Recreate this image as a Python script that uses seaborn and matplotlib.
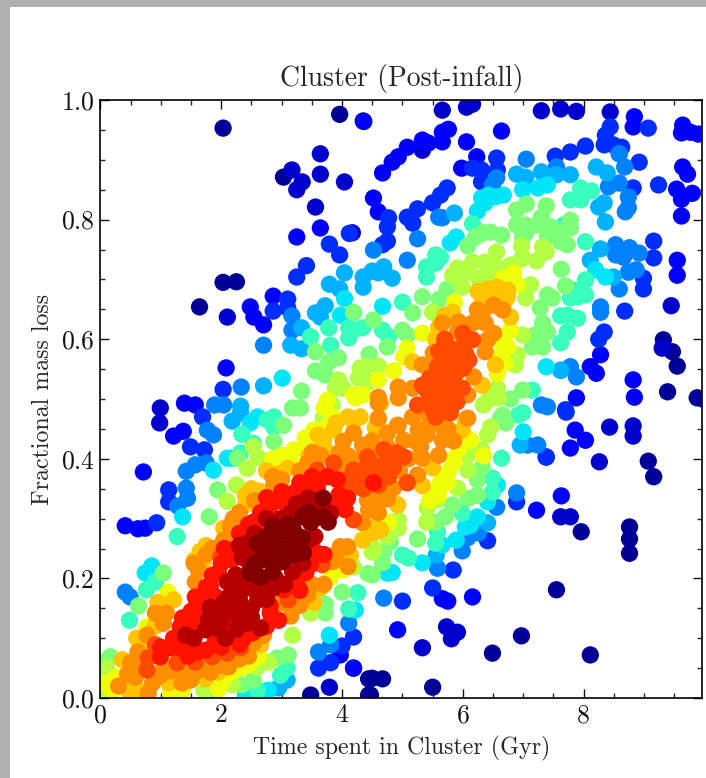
from matplotlib import pyplot as plt
from matplotlib.patches import Rectangle
from matplotlib.ticker import MultipleLocator
import seaborn as sns
import pandas as pd

# points, grouped by how dense they look
navy = [(2.03,.953),(3.96,.976),(4.35,.965),(2.03,.695),(2.25,.696),(1.64,.654),(7.55,.181),(6.49,.075),(6.97,.104),
        (8.11,.072),(4.50,.033),(5.50,.018),(4.47,.005),(4.44,.005),(9.07,.396),(9.16,.37),(7.96,.278),(8.76,.286),
        (8.76,.266),(8.76,.242),(9.88,.502),(9.39,.512),(9.55,.555),(9.47,.579),(9.32,.599),(3.03,.871),(3.48,.005),
        (4.44,.032),(4.67,.032),(9.97,.5)]
dark_blue = [(3.17,.883),(3.34,.863),(3.25,.85),(3.64,.876),(3.64,.91),(.99,.485),(.98,.46),(5.73,.119),(5.91,.11),
             (5.81,.099),(5.33,.084),(3.79,.018),(4.19,.05),(8.82,.455),(8.82,.438),(8.26,.395),(7.62,.303),(7.78,.303),
             (9.30,.585),(9.45,.656),(8.43,.453),(5.66,.983),(7.30,.982),(7.62,.985),(7.88,.981),(8.44,.98),(6.06,.988),
             (6.16,.993),(2.10,.637),(4.04,.863),(3.56,.821),(4.17,.778),(5.33,.916)]
blue = [(3.64,.786),(3.25,.771),(2.48,.654),(2.54,.637),(.71,.378),(.41,.288),(.62,.283),(.74,.284),(1.21,.438),
        (1.37,.446),(1.39,.493),(1.57,.49),(4.92,.114),(6.16,.169),(5.66,.166),(5.75,.162),(7.86,.448),(8.03,.431),
        (7.78,.418),(7.63,.338),(7.22,.314),(8.82,.532),(8.84,.503),(7.88,.502),(9.55,.732),(9.55,.707),(9.64,.958),
        (9.62,.945),(9.77,.946),(9.90,.943),(9.64,.888),(9.72,.876),(9.54,.851),(9.80,.844),(9.62,.834),(9.62,.806),
        (6.64,.948),(8.84,.972),(8.82,.955),(4.36,.964),(4.67,.878),(4.83,.896),(4.93,.905),(5.08,.921),(5.33,.933),
        (5.43,.928),(5.66,.93),(5.66,.946),(5.76,.951),(6.06,.93),(6.23,.905),(5.98,.886),(4.52,.836),(2.70,.624),
        (2.86,.672),(2.08,.552),(8.11,.554),(8.21,.543),(8.28,.574),(7.38,.403),(4.60,.813),(4.19,.05),(3.97,.072)]
blue_azure = [(3.79,.759),(3.96,.741),(3.41,.723),(3.25,.704),(2.86,.647),(3.10,.667),(3.10,.652),(2.03,.516),(4.12,.777),
              (1.13,.348),(1.13,.328),(1.49,.42),(.93,.293),(5.0,.162),(5.50,.184),(5.84,.214),(6.41,.263),(6.89,.328),
              (7.70,.482),(7.71,.478),(8.25,.6),(8.34,.612),(8.68,.647),(8.99,.684),(8.99,.702),(9.16,.736),(9.07,.953),
              (8.44,.955),(8.36,.941),(8.34,.925),(8.03,.923),(7.78,.913),(6.31,.883),(6.16,.886),(6.56,.903),(6.57,.883),
              (6.31,.863),(4.75,.788),(4.77,.803),(5.08,.804),(5.25,.818),(5.17,.794),(5.50,.828),(5.63,.841),(5.74,.853),
              (9.24,.858),(8.92,.896),(8.82,.853),(4.19,.102),(4.0,.087),(3.61,.05),(3.81,.059),(8.49,.925),(8.63,.921),
              (1.69,.47),(1.72,.415),(4.75,.764),(4.67,.758),(7.53,.906),(7.38,.403),(9.16,.764)]
azure = [(2.70,.59),(3.17,.639),(3.17,.615),(2.33,.52),(1.89,.49),(2.04,.49),(1.77,.448),(1.87,.44),(1.75,.393),(1.57,.39),
         (1.42,.379),(1.42,.351),(1.44,.334),(1.28,.321),(.41,.177),(.49,.169),(4.69,.167),(4.11,.125),(3.81,.089),(3.61,.077),
         (6.26,.276),(6.08,.268),(5.99,.246),(5.58,.217),(6.56,.319),(6.89,.343),(7.24,.423),(7.30,.49),(7.40,.487),(7.62,.548),
         (7.78,.554),(7.88,.537),(8.28,.654),(8.28,.645),(8.59,.684),(8.87,.716),(8.74,.712),(8.92,.744),(8.76,.753),(8.66,.737),
         (8.53,.758),(8.53,.741),(8.59,.91),(8.59,.861),(8.68,.888),(8.59,.91),(8.41,.855),(8.74,.838),(8.74,.82),(8.69,.813),
         (7.05,.901),(6.56,.87),(6.49,.858),(5.25,.768),(5.08,.732),(4.52,.749),(5.60,.804),(5.66,.803),(7.55,.888),(7.07,.423)]
light_azure = [(3.33,.619),(3.15,.59),(3.33,.584),(2.32,.488),(2.32,.477),(2.18,.463),(2.70,.522),(3.56,.644),(3.72,.656),
               (3.64,.637),(3.79,.692),(3.96,.684),(4.04,.711),(4.35,.704),(4.50,.714),(4.69,.721),(4.60,.711),(4.83,.702),
               (4.35,.687),(5.86,.811),(6.89,.876),(7.04,.871),(7.30,.88),(7.55,.875),(7.78,.875),(8.21,.888),(8.39,.878),
               (8.34,.828),(8.25,.821),(8.36,.796),(8.28,.751),(8.49,.704),(8.11,.732),(6.41,.293),(5.56,.239),(6.95,.423),
               (7.62,.548),(3.09,.03),(2.95,.017)]
cyan = [(3.01,.535),(2.18,.401),(2.10,.401),(1.87,.381),(1.36,.303),(.85,.221),(.74,.209),(2.48,.46),(2.6,.47),(3.79,.105),
        (4.22,.147),(2.78,.013),(2.4,.005),(4.83,.21),(4.75,.209),(4.75,.209),(5.33,.226),(5.66,.256),(5.89,.264),(6.13,.289),
        (6.04,.286),(6.24,.303),(6.41,.328),(6.57,.356),(7.0,.445),(8.2,.716),(8.36,.704),(7.38,.554),(6.24,.814),(6.31,.836),
        (6.37,.828),(6.42,.841),(6.54,.838),(6.67,.841),(6.99,.85),(7.24,.853),(7.40,.858),(5.79,.761),(5.89,.771),(4.67,.655),
        (3.97,.64),(4.04,.668)]
turquoise = [(1.27,.27),(.91,.194),(.76,.181),(.48,.13),(2.34,.441),(2.53,.426),(2.76,.465),(2.87,.47),(2.87,.453),(2.32,.41),
             (3.09,.05),(2.98,.038),(2.6,.013),(4.11,.149),(4.26,.176),(5.10,.234),(5.0,.239),(5.55,.259),(5.58,.278),(6.49,.368),
             (6.49,.344),(5.99,.309),(6.92,.473),(6.99,.477),(7.15,.515),(7.62,.594),(7.73,.612),(7.62,.639),(7.73,.64),(7.90,.635),
             (7.85,.682),(7.78,.669),(8.03,.699),(8.03,.674),(7.90,.671),(7.78,.833),(7.95,.833),(7.95,.853),(8.13,.848),(8.03,.763),
             (7.67,.791),(5.55,.741),(5.63,.737),(5.40,.721),(5.40,.704),(5.55,.727),(5.0,.662),(6.16,.793),(3.48,.604),(3.78,.619),
             (4.19,.644),(3.81,.59),(4.11,.602),(4.11,.619),(4.67,.615),(4.77,.604),(4.34,.619),(4.19,.615),(6.64,.401)]
green = [(3.33,.513),(1.8,.303),(1.94,.348),(1.04,.209),(.63,.154),(.16,.069),(.05,.059),(2.87,.429),(3.03,.456),(3.18,.485),
         (3.31,.485),(1.87,.005),(2.34,.022),(2.53,.03),(2.93,.067),(3.11,.072),(3.72,.157),(4.0,.177),(3.72,.142),(4.43,.208),
         (4.69,.244),(4.67,.226),(4.5,.206),(4.80,.261),(5.25,.266),(5.55,.294),(5.71,.303),(5.83,.323),(6.09,.334),(6.24,.339),
         (6.24,.365),(6.62,.468),(6.71,.46),(6.66,.473),(6.79,.5),(6.99,.515),(7.15,.587),(7.20,.607),(7.32,.587),(7.40,.612),
         (7.28,.652),(7.32,.627),(7.40,.674),(7.48,.669),(7.63,.717),(7.70,.689),(7.38,.823),(7.05,.826),(6.89,.816),(7.30,.804),
         (7.78,.799),(6.89,.791),(7.04,.791),(7.04,.778),(7.24,.791),(7.45,.788),(7.78,.786),(7.60,.779),(6.99,.771),(7.40,.771),
         (7.62,.763),(7.73,.758),(6.64,.774),(6.46,.779),(6.34,.778),(6.21,.771),(6.08,.756),(5.33,.671),(5.17,.644),(5.74,.684),
         (4.19,.645),(4.52,.632),(5.0,.615),(5.08,.607),(4.75,.587),(4.45,.575),(3.56,.579),(3.94,.569),(3.78,.562),(3.56,.547),
         (3.72,.54),(5.61,.667),(6.32,.386),(2.27,.401)]
yellow_green = [(2.1,.329),(2.25,.356),(2.43,.384),(2.61,.402),(3.69,.468),(3.84,.49),(2.78,.06),(2.18,.022),(1.71,.013),(.11,.013),
                (.16,.005),(.13,.038),(2.6,.052),(3.18,.105),(3.48,.142),(4.19,.219),(4.52,.251),(4.5,.244),(5.40,.294),(5.41,.318),
                (5.58,.331),(5.91,.351),(6.08,.381),(6.08,.406),(6.31,.415),(6.41,.44),(6.46,.453),(6.34,.49),(6.42,.498),(6.57,.518),
                (6.59,.502),(6.90,.574),(6.87,.557),(6.99,.607),(6.97,.756),(7.32,.754),(7.38,.746),(7.22,.731),(6.97,.734),(6.08,.712),
                (5.91,.719),(5.83,.707),(6.16,.729),(6.37,.729),(6.56,.746),(6.57,.719),(6.79,.724),(6.99,.736),(6.26,.702),(6.46,.711),
                (7.12,.691),(7.04,.669),(5.99,.687),(5.50,.645),(4.75,.27),(4.93,.298),(4.93,.284),(3.94,.532),(3.89,.518),(4.02,.518),
                (4.3,.552),(4.27,.535),(4.60,.555),(4.39,.554),(4.35,.537),(4.44,.528),(2.53,.42),(.05,.045),(.1,.05),(.04,.012)]
yellow = [(1.12,.177),(.91,.142),(.77,.119),(.03,.025),(.25,.035),(1.36,.013),(1.16,.008),(2.04,.03),(2.32,.05),(2.61,.069),
          (3.81,.202),(4.02,.214),(4.77,.294),(5.63,.361),(5.58,.348),(5.76,.378),(5.84,.393),(5.93,.415),(6.13,.431),(6.34,.405),
          (6.79,.615),(6.74,.587),(6.62,.574),(6.57,.542),(6.67,.702),(6.84,.711),(6.90,.691),(5.86,.662),(5.33,.61),(5.08,.585),
          (5.02,.57),(4.85,.547),(4.60,.532),(4.22,.502),(4.35,.507),(4.19,.507),(3.76,.498),(3.2,.415),(3.01,.406),(3.39,.435),
          (3.53,.448),(3.72,.452),(2.87,.384),(.2,.012),(1.3,.03),(2.2,.045),(2.45,.055),(1.95,.015),(2.85,.4),(3.15,.4),
          (3.4,.42),(3.55,.43),(3.85,.47),(3.7,.485),(5.45,.33),(5.6,.34),(5.85,.4),(5.75,.36),(6.0,.43),(6.6,.6),(6.7,.56)]
amber = [(1.21,.164),(1.04,.155),(.62,.013),(.46,.013),(.36,.064),(1.13,.025),(1.74,.032),(1.95,.043),(3.64,.184),(3.53,.16),
         (4.64,.281),(4.34,.264),(4.52,.276),(4.14,.239),(4.55,.286),(4.59,.462),(4.64,.493),(4.55,.452),(4.19,.462),(3.69,.431),
         (3.86,.448),(3.72,.415),(2.4,.339),(2.4,.323),(2.63,.346),(3.1,.384),(2.04,.284),(1.7,.228),(6.41,.684),(6.57,.687),
         (6.74,.682),(6.32,.669),(6.74,.671),(6.79,.637),(5.83,.645),(5.63,.604),(6.54,.557),(6.32,.523),(6.04,.465),(5.99,.448),
         (5.50,.385),(5.33,.355),(4.92,.323),(5.17,.562),(2.65,.089),(.95,.16),(.9,.12),(.7,.09),(.6,.1),(1.55,.23),(1.65,.245),
         (1.75,.255),(2.5,.35),(2.75,.38),(2.95,.375),(3.45,.405),(3.6,.44),(3.9,.46),(4.1,.47),(4.3,.47),(6.25,.68),(6.3,.655),
         (6.5,.67),(6.7,.665),(6.4,.66),(5.55,.6),(5.6,.62),(5.7,.64)]
orange = [(.91,.142),(1.09,.142),(.77,.105),(1.04,.125),(.62,.077),(.50,.059),(.58,.035),(.86,.025),(.99,.038),(1.37,.042),
          (1.49,.03),(1.57,.043),(1.82,.043),(2.12,.052),(.79,.008),(2.53,.092),(3.15,.137),(2.98,.159),(3.43,.172),(3.84,.228),
          (4.09,.253),(3.97,.253),(1.57,.194),(1.62,.214),(2.15,.288),(2.04,.264),(2.87,.356),(3.43,.393),(3.51,.411),(4.02,.429),
          (4.19,.443),(4.34,.423),(4.02,.387),(4.59,.411),(4.64,.378),(4.85,.351),(4.75,.333),(4.42,.331),(4.44,.314),(4.67,.334),
          (4.34,.293),(4.52,.334),(4.93,.502),(4.93,.52),(4.60,.503),(4.60,.493),(5.17,.518),(5.17,.47),(4.6,.468),(4.93,.456),
          (5.08,.36),(5.25,.373),(5.33,.401),(5.60,.406),(5.30,.42),(5.66,.431),(5.66,.453),(5.26,.448),(5.02,.431),(4.92,.456),
          (4.75,.443),(6.08,.468),(6.51,.657),(6.24,.649),(6.32,.644),(6.66,.649),(5.93,.629),(5.66,.627),(5.91,.612),(6.16,.627),
          (6.37,.627),(6.51,.61),(6.41,.599),(5.51,.577),(6.37,.579),(5.33,.557),(6.18,.537),(6.08,.507),(5.51,.487),(5.79,.477),
          (5.17,.47),(.3,.02),(.45,.04),(.7,.05),(1.05,.055),(1.15,.045),(1.35,.025),(1.7,.05),(2.0,.055),(2.3,.065),(2.45,.07),
          (2.7,.105),(1.55,.225),(1.75,.24),(1.85,.25),(2.2,.3),(2.3,.31),(2.55,.33),(2.85,.37),(3.0,.365),(3.3,.38),(3.65,.405),
          (3.95,.41),(4.1,.405),(4.3,.4),(4.5,.43),(4.75,.42),(4.95,.38),(5.1,.4),(5.2,.43),(5.4,.44),(5.45,.46),(5.35,.48),
          (5.6,.47),(5.75,.45),(5.85,.43),(4.55,.34),(4.6,.31),(3.9,.24),(4.1,.22),(3.7,.19),(3.5,.19),(3.3,.155)]
orange_red = [(.79,.067),(.91,.089),(1.27,.059),(1.57,.06),(1.85,.069),(2.32,.084),(2.1,.075),(.77,.047),(3.11,.164),(3.67,.223),
              (2.34,.276),(1.99,.236),(3.59,.381),(3.86,.393),(4.19,.381),(4.42,.403),(4.09,.365),(4.3,.365),(4.19,.298),(4.52,.39),
              (4.75,.395),(4.60,.356),(4.77,.37),(6.16,.599),(5.99,.587),(5.79,.585),(5.74,.569),(5.91,.565),(5.58,.554),(6.01,.552),
              (5.79,.54),(5.51,.523),(5.33,.523),(5.66,.52),(5.79,.515),(5.99,.518),(5.46,.503),(5.63,.493),(5.84,.498),(5.79,.477),
              (5.50,.482),(5.02,.403),(4.69,.415),(5.08,.36),(5.65,.53),(5.7,.555),(5.55,.5),(5.85,.53),(5.9,.545),(6.05,.575),
              (6.1,.565),(5.7,.6),(6.0,.61),(5.45,.535),(5.4,.515),(5.6,.58),(5.9,.495),(5.7,.49),(5.55,.47),(5.25,.49),(4.6,.385),
              (4.5,.375),(4.85,.385),(4.9,.41),(4.35,.38),(4.15,.35),(4.0,.36),(4.35,.35)]
red = [(.99,.069),(1.16,.084),(1.32,.084),(1.74,.08),(1.61,.077),(2.18,.109),(2.37,.1),(2.52,.109),(3.03,.181),(2.81,.154),
       (2.81,.142),(3.25,.192),(3.48,.223),(1.36,.134),(1.32,.119),(1.21,.1),(1.82,.188),(1.57,.169),(1.71,.169),(1.57,.151),
       (2.2,.248),(2.18,.231),(2.53,.294),(2.6,.278),(3.43,.351),(3.2,.343),(2.95,.331),(2.81,.32),(3.09,.32),(3.59,.351),
       (3.76,.37),(3.92,.365),(4.52,.36),(4.09,.334),(3.92,.326),(1.0,.085),(1.5,.09),(1.45,.07),(1.9,.095),(2.0,.085),(2.25,.12),
       (2.3,.09),(1.6,.125),(1.5,.145),(1.45,.12),(1.7,.135),(1.9,.17),(1.75,.185),(1.85,.205),(1.95,.21),(2.0,.225),(2.05,.25),
       (2.3,.275),(2.45,.29),(2.65,.31),(2.75,.335),(3.0,.345),(3.3,.36),(3.5,.37),(3.95,.34),(4.05,.315),(3.55,.245),(3.7,.24),
       (3.4,.21),(3.3,.18),(2.95,.13),(2.75,.12)]
dark_red = [(1.41,.105),(1.74,.114),(1.85,.127),(2.07,.1),(2.43,.125),(2.2,.142),(2.04,.149),(1.79,.131),(2.04,.159),(2.12,.169),
            (2.34,.152),(2.40,.139),(2.6,.164),(2.43,.184),(2.2,.181),(2.1,.194),(2.24,.206),(2.86,.184),(2.65,.117),(2.48,.219),
            (2.43,.259),(1.82,.152),(3.43,.334),(3.15,.309),(3.81,.309),(3.18,.211),(2.3,.165),(2.5,.15),(2.35,.195),(2.55,.185),
            (2.7,.18),(2.75,.165),(2.0,.13),(1.95,.115),(2.25,.115),(2.5,.135),(1.55,.1),(2.35,.235),(2.3,.255),(2.5,.24),(2.55,.275),
            (2.75,.3),(3.0,.3),(3.25,.325),(3.55,.33),(3.6,.31),(3.55,.27),(3.45,.265),(3.35,.225),(3.05,.19),(2.9,.2)]
darkest = [(2.48,.209),(2.65,.202),(2.85,.211),(3.01,.228),(3.2,.239),(3.36,.243),(2.95,.248),(2.76,.236),(2.7,.252),(2.6,.259),
           (2.86,.259),(3.01,.278),(3.15,.264),(3.34,.268),(3.34,.303),(2.85,.288),(3.48,.293),(3.69,.303),(3.77,.294),(3.69,.334),
           (2.55,.225),(2.65,.23),(2.85,.235),(3.05,.25),(2.9,.275),(3.1,.29),(3.2,.28),(2.75,.27),(3.45,.31),(3.55,.3),(3.25,.25)]

groups = [navy, dark_blue, blue, blue_azure, azure, light_azure, cyan, turquoise, green, yellow_green, yellow, amber,
          orange, orange_red, red, dark_red, darkest]
density_levels = [.02, .07, .11, .17, .25, .30, .35, .42, .50, .57, .64, .70, .76, .83, .89, .95, 1.0]

rows = []
for pts, d in zip(groups, density_levels):
    rows += [(x, y, d) for x, y in pts]
df = pd.DataFrame(rows, columns=['time', 'loss', 'density'])

sns.set_style('ticks')
plt.rcParams['font.family'] = ['cmr10', 'DejaVu Serif']
plt.rcParams['axes.unicode_minus'] = False
plt.rcParams['axes.formatter.use_mathtext'] = True

fig = plt.figure(figsize=(7.06, 7.78), dpi=100)
fig.patch.set_facecolor('#b0b0b0')
fig.add_artist(Rectangle((10 / 706, 0), 696 / 706, 771 / 778, transform=fig.transFigure, color='white', lw=0, zorder=-1))
ax = fig.add_axes([100.5 / 706, 80 / 778, 601.5 / 706, 598 / 778])
sns.scatterplot(data=df, x='time', y='loss', hue='density', palette=plt.get_cmap('jet'), hue_norm=(0, 1),
                s=155, linewidth=0, legend=False, ax=ax)
ax.set_xlim(0, 9.96)
ax.set_ylim(0, 1)
ax.xaxis.set_major_locator(MultipleLocator(2))
ax.xaxis.set_minor_locator(MultipleLocator(0.5))
ax.yaxis.set_major_locator(MultipleLocator(0.2))
ax.yaxis.set_minor_locator(MultipleLocator(0.05))
ax.xaxis.set_major_formatter(lambda v, p: f'{v:.0f}')
ax.tick_params(which='major', direction='in', top=True, right=True, length=6.5, width=1, labelsize=18.5, colors='#111111', pad=4)
ax.tick_params(which='minor', direction='in', top=True, right=True, length=3.5, width=1)
for s in ax.spines.values():
    s.set_linewidth(1.2)
    s.set_color('black')
ax.set_xlabel('Time spent in Cluster (Gyr)', fontsize=17.2, labelpad=6)
ax.set_ylabel('Fractional mass loss', fontsize=17.2, labelpad=5)
ax.set_title('Cluster (Post-infall)', fontsize=20, pad=10)
fig.savefig('out.png', dpi=100)
